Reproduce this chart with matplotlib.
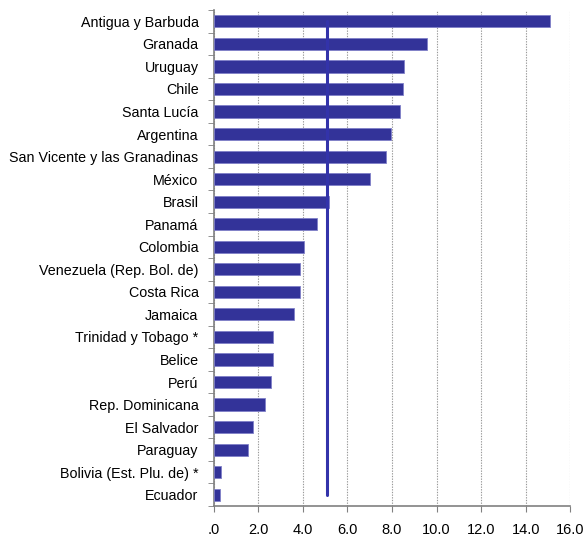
import numpy as np
import matplotlib.pyplot as plt
from matplotlib.ticker import FixedLocator, NullFormatter

paises = ["Antigua y Barbuda", "Granada", "Uruguay", "Chile", "Santa Lucía",
          "Argentina", "San Vicente y las Granadinas", "México", "Brasil",
          "Panamá", "Colombia", "Venezuela (Rep. Bol. de)", "Costa Rica",
          "Jamaica", "Trinidad y Tobago *", "Belice", "Perú",
          "Rep. Dominicana", "El Salvador", "Paraguay",
          "Bolivia (Est. Plu. de) *", "Ecuador"]
valores = [15.1, 9.56, 8.54, 8.49, 8.37, 7.96, 7.73, 7.0, 5.17, 4.64, 4.06,
           3.88, 3.88, 3.58, 2.64, 2.64, 2.58, 2.28, 1.75, 1.51, 0.33, 0.27]
promedio = 5.06
xticks = [0, 2, 4, 6, 8, 10, 12, 14, 16]
xlabels = [".0", "2.0", "4.0", "6.0", "8.0", "10.0", "12.0", "14.0", "16.0"]

plt.rcParams['font.family'] = ['Liberation Sans', 'DejaVu Sans']

fig = plt.figure(figsize=(5.86, 5.42), dpi=100)
ax = fig.add_axes([0.365, 0.0664, 0.608, 0.915])

y = np.arange(len(paises))
ax.barh(y, valores, height=0.54, color='#333399', edgecolor='#8080c8', linewidth=0.6, zorder=3)
ax.plot([promedio, promedio], [y[0], y[-1]], color='#3333aa', linewidth=2.2,
        solid_capstyle='round', zorder=4)

ax.set_xlim(0, 16)
ax.set_ylim(len(paises) - 0.5, -0.5)
ax.set_xticks(xticks)
ax.set_xticklabels(xlabels, fontsize=10.5)
ax.set_yticks(y)
ax.set_yticklabels(paises, fontsize=10.3)
ax.tick_params(axis='y', length=0, pad=11)
ax.yaxis.set_minor_locator(FixedLocator(np.arange(-0.5, len(paises), 1)))
ax.yaxis.set_minor_formatter(NullFormatter())
ax.tick_params(axis='y', which='minor', length=4, color='#808080', direction='out')
ax.tick_params(axis='x', length=4, color='#808080', pad=8)

ax.grid(axis='x', color='#999999', linestyle=(0, (1.2, 1.2)), linewidth=0.8, zorder=1)
for s in ['top', 'right']:
    ax.spines[s].set_visible(False)
for s in ['left', 'bottom']:
    ax.spines[s].set_color('#808080')
    ax.spines[s].set_linewidth(1.2)

fig.savefig('out.png', dpi=100)
